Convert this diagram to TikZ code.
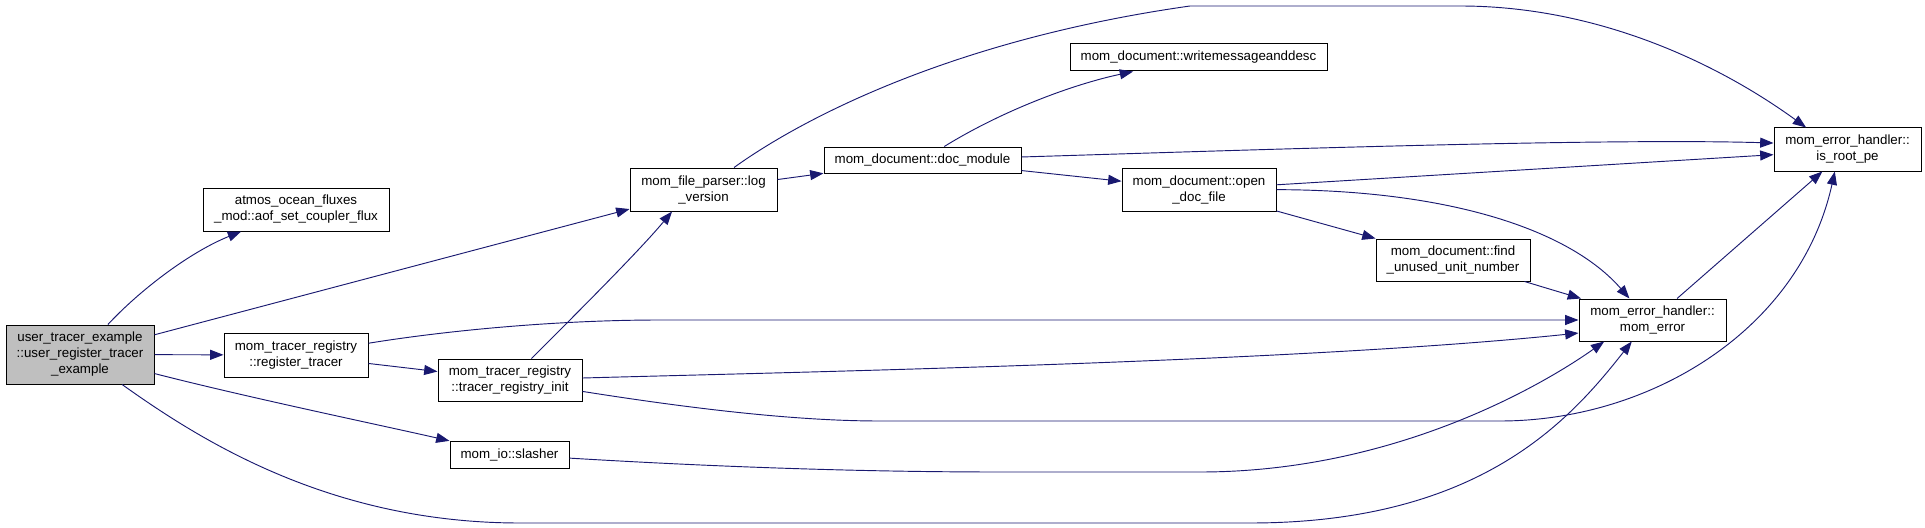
\documentclass[tikz,border=0pt]{standalone}
\usepackage{fontspec}
\setmainfont{Liberation Sans}
\usetikzlibrary{arrows.meta}
\definecolor{edgeblue}{HTML}{191970}
\definecolor{rootgray}{HTML}{BFBFBF}

\begin{document}
\begin{tikzpicture}[x=0.75pt,y=-0.75pt,
    fn/.style={draw, line width=0.75pt, fill=white, align=center, inner sep=0pt,
      font=\fontsize{10pt}{12pt}\selectfont},
    sz/.style 2 args={minimum width=#1*0.75pt, minimum height=#2*0.75pt},
    call/.style={draw=edgeblue, line width=0.7pt, -{Triangle[length=10pt,width=7.5pt]}}]
  \useasboundingbox (0,0) rectangle (1925,528);

  \node[fn, fill=rootgray, sz={148}{59}] (root) at (80,354.5) {user\_tracer\_example\\::user\_register\_tracer\\\_example};
  \node[fn, sz={186}{43}] (atmos) at (296,209.5) {atmos\_ocean\_fluxes\\\_mod::aof\_set\_coupler\_flux};
  \node[fn, sz={144}{44}] (regtr) at (296,355) {mom\_tracer\_registry\\::register\_tracer};
  \node[fn, sz={144}{42}] (trinit) at (510,380) {mom\_tracer\_registry\\::tracer\_registry\_init};
  \node[fn, sz={119}{27}] (slasher) at (509.5,454.5) {mom\_io::slasher};
  \node[fn, sz={147}{43}] (logv) at (703.5,189.5) {mom\_file\_parser::log\\\_version};
  \node[fn, sz={197}{26}] (docmod) at (922.5,160) {mom\_document::doc\_module};
  \node[fn, sz={257}{27}] (writemsg) at (1198.5,57.5) {mom\_document::writemessageanddesc};
  \node[fn, sz={154}{43}] (opendoc) at (1199,189.5) {mom\_document::open\\\_doc\_file};
  \node[fn, sz={154}{42}] (findun) at (1453,260) {mom\_document::find\\\_unused\_unit\_number};
  \node[fn, sz={147}{42}] (momerr) at (1652.5,320) {mom\_error\_handler::\\mom\_error};
  \node[fn, sz={147}{43}] (isroot) at (1847.5,149.5) {mom\_error\_handler::\\is\_root\_pe};

  \draw[call] (root) .. controls (140,290) and (190,252) .. (atmos);
  \draw[call] (root) -- (logv);
  \draw[call] (root) -- (regtr);
  \draw[call] (root) .. controls (250,398) and (380,425) .. (slasher);
  \draw[call] (root) .. controls (200,440) and (330,523) .. (520,523) -- (1250,523)
    .. controls (1480,523) and (1570,420) .. (momerr.226);
  \draw[call] (regtr) .. controls (450,330) and (560,320) .. (660,320) -- (momerr);
  \draw[call] (regtr) -- (trinit);
  \draw[call] (trinit) .. controls (580,310) and (640,250) .. (logv.215);
  \draw[call] (trinit) .. controls (800,372) and (1300,362) .. (momerr.190);
  \draw[call] (trinit) .. controls (700,410) and (800,421) .. (880,421) -- (1500,421)
    .. controls (1650,421) and (1800,330) .. (isroot.240);
  \draw[call] (slasher) .. controls (700,466) and (850,472) .. (1000,472) -- (1200,472)
    .. controls (1400,472) and (1550,380) .. (momerr.204);
  \draw[call] (logv) -- (docmod);
  \draw[call] (logv) .. controls (800,120) and (950,40) .. (1190,6) -- (1460,6)
    .. controls (1600,6) and (1720,65) .. (isroot.152);
  \draw[call] (docmod) .. controls (1000,112) and (1070,85) .. (writemsg);
  \draw[call] (docmod) .. controls (1250,150) and (1600,138) .. (isroot.175);
  \draw[call] (docmod) -- (opendoc);
  \draw[call] (opendoc) -- (isroot.184);
  \draw[call] (opendoc) .. controls (1450,190) and (1570,230) .. (momerr.137);
  \draw[call] (opendoc) -- (findun);
  \draw[call] (findun) -- (momerr);
  \draw[call] (momerr) -- (isroot);
\end{tikzpicture}
\end{document}
